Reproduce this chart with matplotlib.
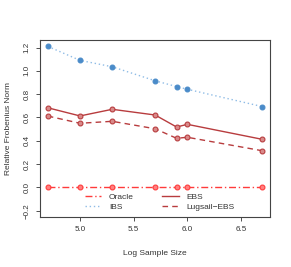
import numpy as np
import matplotlib
matplotlib.use("Agg")
import matplotlib.pyplot as plt

plt.rcParams["font.family"] = ["Liberation Sans", "DejaVu Sans"]

# data
log_n   = [4.7, 5.0, 5.3, 5.7, 5.9, 6.0, 6.7]
oracle  = [0.0, 0.0, 0.0, 0.0, 0.0, 0.0, 0.0]
ibs     = [1.21, 1.09, 1.035, 0.915, 0.865, 0.842, 0.693]
ebs     = [0.683, 0.613, 0.670, 0.621, 0.518, 0.541, 0.412]
lugsail = [0.612, 0.550, 0.567, 0.503, 0.421, 0.430, 0.314]

RED   = "#FF3B3B"
DARK  = "#B83C3E"
LBLUE = "#8FBCE6"
BLUE  = "#4A8BC9"

fig = plt.figure(figsize=(2.91, 2.67), dpi=100)
ax = fig.add_axes([0.136, 0.187, 0.792, 0.665])

mk = dict(marker="o", markersize=3.5, markeredgewidth=0.8)

ax.plot(log_n, oracle, color=RED, lw=1.0, ls=(0, (5, 2, 1, 2)),
        markerfacecolor="#FF8080", markeredgecolor=RED, label="Oracle", **mk)
ax.plot(log_n, ibs, color=LBLUE, lw=1.0, ls=(0, (1, 2)),
        markerfacecolor=BLUE, markeredgecolor=BLUE, label="IBS", **mk)
ax.plot(log_n, ebs, color=DARK, lw=1.0, ls="-",
        markerfacecolor="#D98A8A", markeredgecolor=DARK, label="EBS", **mk)
ax.plot(log_n, lugsail, color=DARK, lw=1.0, ls=(0, (4, 3)),
        markerfacecolor="#D98A8A", markeredgecolor=DARK, label="Lugsail\u2212EBS", **mk)

ax.set_xlim(4.623, 6.771)
ax.set_ylim(-0.255, 1.269)
ax.set_xticks([5.0, 5.5, 6.0, 6.5])
ax.set_yticks([-0.2, 0.0, 0.2, 0.4, 0.6, 0.8, 1.0, 1.2])
ax.set_yticklabels(["\u22120.2", "0.0", "0.2", "0.4", "0.6", "0.8", "1.0", "1.2"],
                   rotation=90, va="center")
ax.tick_params(labelsize=5.8, length=3, width=0.6, colors="#333333", direction="out")
for sp in ax.spines.values():
    sp.set_color("#444444")
    sp.set_linewidth(0.8)

ax.set_xlabel("Log Sample Size", fontsize=6, color="#333333", labelpad=12)
ax.set_ylabel("Relative Frobenius Norm", fontsize=6, color="#333333", labelpad=8)

handles, labels = ax.get_legend_handles_labels()
leg = ax.legend(handles, labels, ncol=2, frameon=False,
                fontsize=6, loc="lower center", bbox_to_anchor=(0.52, -0.01),
                handlelength=2.0, columnspacing=3.4, handletextpad=0.9,
                labelspacing=0.35)
for line in leg.get_lines():
    line.set_marker("")
for t in leg.get_texts():
    t.set_color("#333333")

fig.savefig("out.png", dpi=100)
